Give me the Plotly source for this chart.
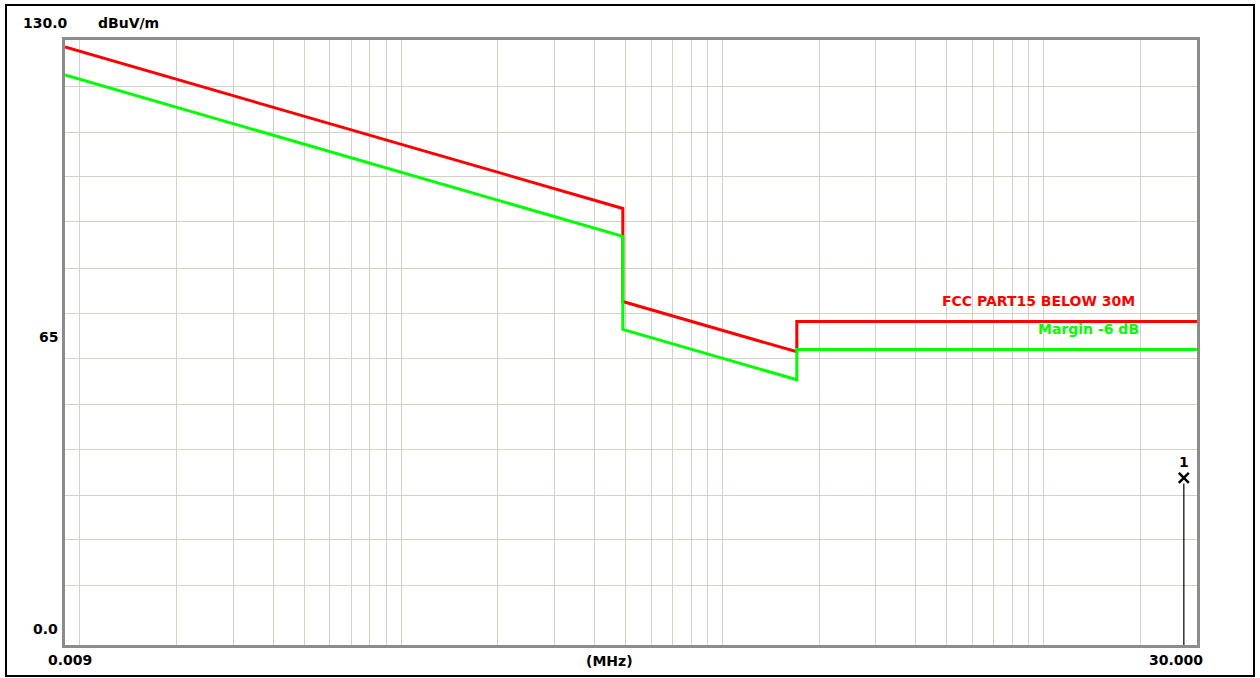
import plotly.graph_objects as go
import numpy as np

# ---- data ----
freq = [0.009, 0.49, 0.49, 1.705, 1.705, 30.0]          # MHz
limit = [128.5, 93.8, 73.8, 63.0, 69.5, 69.5]           # FCC PART15 BELOW 30M, dBuV/m
margin = [122.5, 87.8, 67.8, 57.0, 63.5, 63.5]          # Margin -6 dB
marker_freq = [27.3]
marker_level = [35.9]
marker_labels = ["1"]

# grid values (as drawn by the original software)
grid_y = [12.7, 22.6, 32.2, 42.1, 51.6, 61.5, 71.3, 81.0, 90.9, 100.6, 110.2, 120.1]
grid_x = [0.01, 0.02, 0.03, 0.04, 0.05, 0.06, 0.07, 0.08, 0.09,
          0.1, 0.2, 0.3, 0.4, 0.5, 0.6, 0.7, 0.8, 0.9,
          1, 2, 3, 4, 5, 6, 7, 8, 9, 10, 20]

X0, X1 = 0.009, 30.0
Y0, Y1 = 0.0, 130.0

FONT = "DejaVu Sans"
GRID = "#d4d0c8"

fig = go.Figure()

fig.add_trace(go.Scatter(x=freq, y=limit, mode="lines",
                         line=dict(color="#ff0000", width=3), hoverinfo="skip"))
fig.add_trace(go.Scatter(x=freq, y=margin, mode="lines",
                         line=dict(color="#00ff00", width=3), hoverinfo="skip"))
# marker stem
fig.add_trace(go.Scatter(x=[marker_freq[0], marker_freq[0]], y=[Y0, marker_level[0] - 1.2],
                         mode="lines", line=dict(color="#000000", width=1.2), hoverinfo="skip"))
fig.add_trace(go.Scatter(x=marker_freq, y=marker_level, mode="markers+text",
                         marker=dict(symbol="x-thin", size=10,
                                     line=dict(color="#000000", width=2.5), color="#000000"),
                         text=["<b>%s</b>" % t for t in marker_labels], textposition="top center",
                         textfont=dict(family=FONT, size=14, color="#000000"),
                         hoverinfo="skip"))

fig.update_layout(
    width=1260, height=678,
    paper_bgcolor="#ffffff", plot_bgcolor="#ffffff",
    margin=dict(l=65, r=63, t=40, b=33),
    showlegend=False,
    xaxis=dict(type="log", range=[np.log10(X0), np.log10(X1)],
               tickvals=grid_x, showticklabels=False, ticks="",
               showgrid=True, gridcolor=GRID, gridwidth=1.2,
               showline=True, linecolor="#8c8c8c", linewidth=3, mirror=True,
               zeroline=False),
    yaxis=dict(range=[Y0, Y1], tickvals=grid_y, showticklabels=False, ticks="",
               showgrid=True, gridcolor=GRID, gridwidth=1.2,
               showline=True, linecolor="#8c8c8c", linewidth=3, mirror=True,
               zeroline=False),
    shapes=[dict(type="rect", xref="paper", yref="paper",
                 x0=-59 / 1132, x1=1 + 57 / 1132, y0=-31 / 605, y1=1 + 35 / 605,
                 line=dict(color="#000000", width=2), fillcolor="rgba(0,0,0,0)",
                 layer="below")],
)

def ann(text, x, y, color="#000000", xanchor="left", size=14):
    # x, y in pixels of the page
    fig.add_annotation(text="<b>%s</b>" % text, xref="paper", yref="paper",
                       x=(x - 65) / 1132, y=(645 - y) / 605,
                       xanchor=xanchor, yanchor="middle", showarrow=False,
                       font=dict(family=FONT, size=size, color=color))

ann("130.0", 21, 23)
ann("dBuV/m", 96, 23)
ann("65", 37, 337)
ann("0.0", 31, 629)
ann("0.009", 46, 660)
ann("(MHz)", 584, 661)
ann("30.000", 1147, 660)
ann("FCC PART15 BELOW 30M", 940, 301, color="#ff0000")
ann("Margin -6 dB", 1036, 329, color="#00ff00")

fig.write_html("out.html", config={"displayModeBar": False},
               post_script="document.body.style.margin='0';")
